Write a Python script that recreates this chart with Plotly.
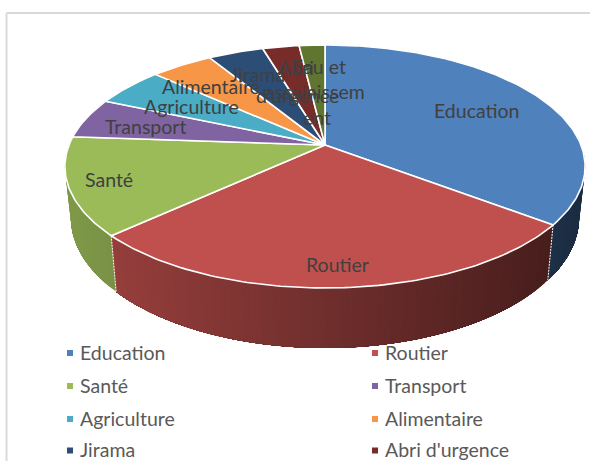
import numpy as np
import plotly.graph_objects as go

# Values (share of the pie, %)
categories = ['Education', 'Routier', 'Santé', 'Transport', 'Agriculture',
              'Alimentaire', 'Jirama', "Abri d'urgence", 'Eau et assainissement']
shares = [35.4, 27.8, 13.0, 5.4, 5.2, 4.6, 4.1, 2.7, 1.9]

colors = ['#4f81bd', '#c0504d', '#9bbb59', '#8064a2', '#4bacc6',
          '#f79646', '#2c4d75', '#772c2a', '#5f7530']

# Data labels, wrapped and placed like the original
label_text = ['Education', 'Routier', 'Santé', 'Transport', 'Agriculture', 'Alimentaire',
              'Jirama', 'Abri', "d'urgence", 'Eau et', 'assainissem', 'ent']
label_x = [476, 337, 109, 145, 191, 211, 257, 296, 297, 319, 315, 317]
label_y = [110, 264, 179, 126, 106, 86, 74, 67, 95, 66, 91, 117]

# Projection of the pie, in page pixels
CX, CY = 325, 145
RX, RY = 256, 117.7
PERSP = 0.177
DEPTH = 49.4
FONT = 'Lato'


def top_point(theta):
    c, s = np.cos(theta), np.sin(theta)
    d = 1 + PERSP * s
    return CX + RX * c / d, CY - RY * s / d


def bottom_point(theta):
    x, y = top_point(theta)
    d = 1 + PERSP * np.sin(theta)
    return CX + (x - CX) * 0.977, y + DEPTH / d


def shade(color, x):
    # the side wall gets darker from left to right
    f = 0.82 - (x - 65) / 480 * 0.44
    r, g, b = [int(color[i:i + 2], 16) for i in (1, 3, 5)]
    return f'rgb({r * f:.0f},{g * f:.0f},{b * f:.0f})'


# Slice limits, clockwise from 12 o'clock
edges = np.pi / 2 - np.cumsum([0] + shares) / sum(shares) * 2 * np.pi

fig = go.Figure()

# Side walls first, the top faces cover whatever is behind.
# Each strip runs on to the end of its slice and the next one paints over it,
# so no seams show between the strips.
for i, color in enumerate(colors):
    arc = np.linspace(edges[i], edges[i + 1], max(2, int(shares[i] * 3)))
    for a, b in zip(arc[:-1], arc[1:]):
        if np.sin((a + b) / 2) > 0.25:
            continue
        fine = np.linspace(a, edges[i + 1], 40)
        xt, yt = top_point(fine)
        xb, yb = bottom_point(fine[::-1])
        xm = top_point((a + b) / 2)[0]
        fig.add_trace(go.Scatter(
            x=np.r_[xt, xb], y=np.r_[yt, yb], mode='lines', fill='toself',
            fillcolor=shade(color, xm), line=dict(width=0), hoverinfo='skip'))

# Thin white seams between the walls
for edge in edges:
    if np.sin(edge) < 0:
        xt, yt = top_point(edge)
        xb, yb = bottom_point(edge)
        fig.add_trace(go.Scatter(
            x=[xt, xb], y=[yt, yb], mode='lines',
            line=dict(color='white', width=1, dash='2px,1px'), hoverinfo='skip'))

# Top faces
for i, color in enumerate(colors):
    fine = np.linspace(edges[i], edges[i + 1], max(8, int(shares[i] * 4)))
    xt, yt = top_point(fine)
    fig.add_trace(go.Scatter(
        x=np.r_[CX, xt, CX], y=np.r_[CY, yt, CY], mode='lines', fill='toself',
        fillcolor=color, line=dict(color='white', width=1.6),
        name=categories[i], hoverinfo='name'))

for text, x, y in zip(label_text, label_x, label_y):
    fig.add_annotation(x=x, y=y, text=text, showarrow=False,
                       font=dict(family=FONT, size=19.5, color='#404040'))

# Legend in two columns, the fifth row falls outside the picture
legend_rows = [352, 385, 418, 449.5]
legend_cols = [(70, 78), (375, 383)]
for i, name in enumerate(categories[:8]):
    mark_x, text_x = legend_cols[i % 2]
    row_y = legend_rows[i // 2]
    fig.add_trace(go.Scatter(
        x=[mark_x], y=[row_y + 1], mode='markers',
        marker=dict(symbol='square', size=6, color=colors[i]), hoverinfo='skip'))
    fig.add_annotation(x=text_x, y=row_y, text=name, showarrow=False, xanchor='left',
                       font=dict(family=FONT, size=19.5, color='#595959'))

# Frame of the chart area, cut by the right and bottom of the picture
fig.add_shape(type='line', x0=6.5, x1=6.5, y0=13, y1=461, line=dict(color='#d9d9d9', width=2))
fig.add_shape(type='line', x0=6.5, x1=590, y0=13, y1=13, line=dict(color='#d9d9d9', width=2))

fig.update_layout(
    width=590, height=461,
    margin=dict(l=0, r=0, t=0, b=0),
    paper_bgcolor='white', plot_bgcolor='white',
    showlegend=False,
    xaxis=dict(range=[0, 590], visible=False, fixedrange=True),
    yaxis=dict(range=[461, 0], visible=False, fixedrange=True),
)

fig.write_html("out.html", config=dict(displayModeBar=False),
               post_script="document.body.style.margin='0';document.body.style.overflow='hidden';")
